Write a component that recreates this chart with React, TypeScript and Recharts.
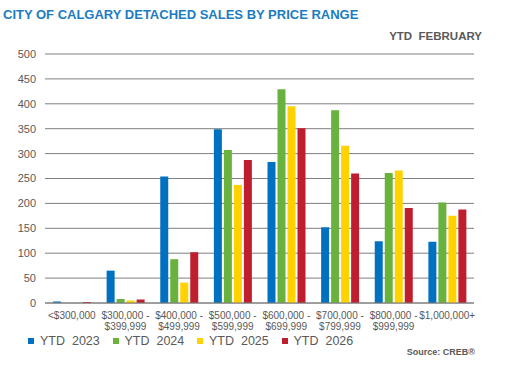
import { BarChart, Bar, XAxis, YAxis, CartesianGrid } from 'recharts'

const categories = [
  '<$300,000',
  '$300,000 -|$399,999',
  '$400,000 -|$499,999',
  '$500,000 -|$599,999',
  '$600,000 -|$699,999',
  '$700,000 -|$799,999',
  '$800,000 -|$999,999',
  '$1,000,000+',
]
const ytd2023 = [3, 65, 254, 349, 283, 152, 124, 123]
const ytd2024 = [0, 8, 88, 307, 429, 387, 261, 202]
const ytd2025 = [0, 5, 41, 237, 395, 316, 266, 175]
const ytd2026 = [2, 7, 102, 287, 351, 260, 191, 188]
const yTicks = [0, 50, 100, 150, 200, 250, 300, 350, 400, 450, 500]

const series = [
  { key: 'y2023', name: 'YTD  2023', color: '#0070C0' },
  { key: 'y2024', name: 'YTD  2024', color: '#6AB23E' },
  { key: 'y2025', name: 'YTD  2025', color: '#FFD200' },
  { key: 'y2026', name: 'YTD  2026', color: '#BE1E2D' },
]

const data = categories.map((c, i) => ({
  cat: c,
  y2023: ytd2023[i],
  y2024: ytd2024[i],
  y2025: ytd2025[i],
  y2026: ytd2026[i],
}))

const FONT = 'Arial, "Liberation Sans", sans-serif'
const GREY = '#595959'

function CatTick({ x, y, payload }: any) {
  const lines = String(payload.value).split('|')
  return (
    <text x={x} y={y} textAnchor="middle" fill={GREY} fontSize={10} fontFamily={FONT}>
      {lines.map((l, i) => (
        <tspan key={i} x={x} dy={i === 0 ? 8 : 11}>{l}</tspan>
      ))}
    </text>
  )
}

export default function App() {
  return (
    <div style={{ position: 'absolute', left: 0, top: 0, width: 510, height: 374, background: '#fff', fontFamily: FONT }}>
      <div style={{ position: 'absolute', left: 3, top: 7, fontSize: 13, fontWeight: 'bold', color: '#1B7CC2', whiteSpace: 'pre' }}>
        CITY OF CALGARY DETACHED SALES BY PRICE RANGE
      </div>
      <div style={{ position: 'absolute', right: 28, top: 30, fontSize: 11.5, fontWeight: 'bold', color: GREY, whiteSpace: 'pre' }}>
        YTD  FEBRUARY
      </div>
      <BarChart
        width={510}
        height={374}
        data={data}
        margin={{ top: 54, right: 36, left: 0, bottom: 31 }}
        barSize={8}
        barGap={2}
      >
        <CartesianGrid vertical={false} stroke="#7F7F7F" strokeWidth={1} />
        <XAxis
          dataKey="cat"
          interval={0}
          height={40}
          axisLine={{ stroke: '#7F7F7F' }}
          tickLine={false}
          tick={<CatTick />}
        />
        <YAxis
          width={45}
          domain={[0, 500]}
          ticks={yTicks}
          axisLine={false}
          tickLine={false}
          tickMargin={3}
          tick={{ fill: GREY, fontSize: 11, fontFamily: FONT }}
        />
        {series.map(s => (
          <Bar key={s.key} dataKey={s.key} name={s.name} fill={s.color} isAnimationActive={false} />
        ))}
      </BarChart>
      {series.map((s, i) => (
        <div
          key={s.key}
          style={{ position: 'absolute', left: 28 + i * 84.5, top: 334, display: 'flex', alignItems: 'center', whiteSpace: 'pre', fontSize: 12.5, color: GREY }}
        >
          <span style={{ display: 'inline-block', width: 6, height: 6, background: s.color, marginRight: 6 }} />
          {s.name}
        </div>
      ))}
      <div style={{ position: 'absolute', right: 35, top: 347, fontSize: 9, fontWeight: 'bold', color: GREY }}>
        Source: CREB®
      </div>
    </div>
  )
}
